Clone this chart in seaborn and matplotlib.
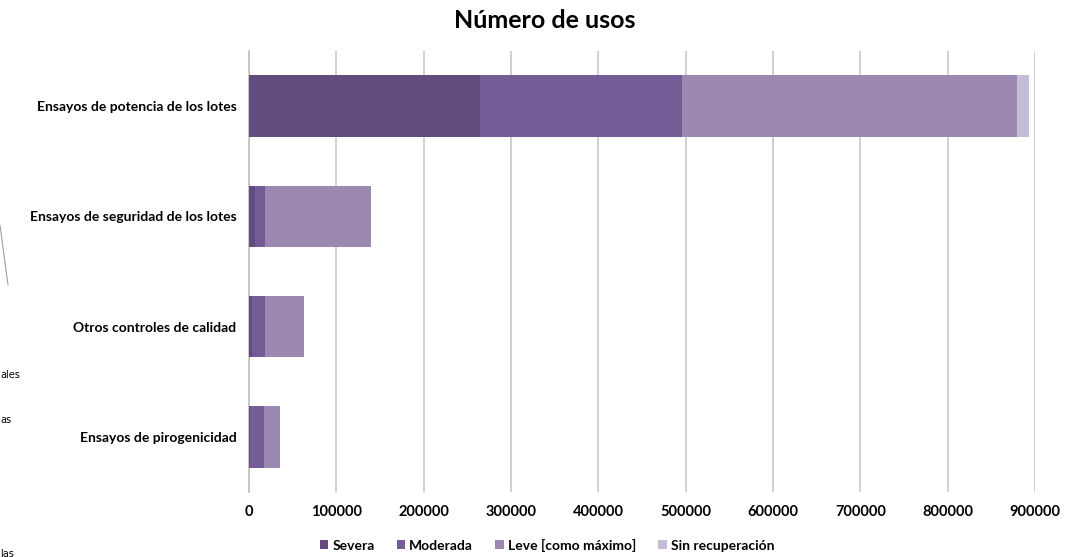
import matplotlib
matplotlib.use("Agg")
import matplotlib.pyplot as plt
import seaborn as sns
import pandas as pd
import numpy as np
from matplotlib.patches import Patch

categories = ["Ensayos de potencia de los lotes",
              "Ensayos de seguridad de los lotes",
              "Otros controles de calidad",
              "Ensayos de pirogenicidad"]
series_names = ["Severa", "Moderada", "Leve [como máximo]", "Sin recuperación"]
severa = [264000, 7000, 4000, 1000]
moderada = [232000, 11500, 14300, 16200]
leve = [383000, 121200, 45100, 18300]
sin_recuperacion = [14000, 0, 0, 0]
colors = ["#624c7d", "#765c96", "#9b89b2", "#c7bcd6"]
xticks = [0, 100000, 200000, 300000, 400000, 500000, 600000, 700000, 800000, 900000]

sns.set_theme(style="white")
plt.rcParams['font.family'] = ['Lato', 'DejaVu Sans']
plt.rcParams['text.color'] = 'black'

fig = plt.figure(figsize=(10.79, 5.57), dpi=100)
ax = fig.add_axes([249/1079, 1-492/557, (1035-249)/1079, (492-51)/557])

vals = np.array([severa, moderada, leve, sin_recuperacion], dtype=float)
cum = np.cumsum(vals, axis=0)
for i in range(len(series_names) - 1, -1, -1):
    df = pd.DataFrame({"cat": categories, "val": cum[i]})
    sns.barplot(data=df, y="cat", x="val", orient="h", color=colors[i],
                width=0.56, ax=ax, saturation=1, linewidth=0, zorder=3)

ax.set_xlim(0, 900000)
ax.set_xticks(xticks)
ax.set_xticklabels([str(t) for t in xticks], fontsize=10.5, fontweight="bold")
ax.set_yticklabels(categories, fontsize=10, fontweight="bold")
ax.set_xlabel("")
ax.set_ylabel("")
ax.grid(axis="x", color="#c8c8c8", linewidth=1.2, zorder=0)
ax.set_axisbelow(True)
for s in ["top", "right", "bottom"]:
    ax.spines[s].set_visible(False)
ax.spines["left"].set_color("#c0c0c0")
ax.spines["left"].set_linewidth(1.2)
ax.tick_params(axis="x", length=0, pad=9, colors="black")
ax.tick_params(axis="y", length=0, pad=9, colors="black")

fig.text(545/1079, 1-20/557, "Número de usos", ha="center", va="center",
         fontsize=18, fontweight="bold", color="black")

handles = [Patch(facecolor=c, edgecolor="none") for c in colors]
fig.legend(handles, series_names, loc="center", bbox_to_anchor=(547/1079, 1-545/557),
           ncol=4, frameon=False, prop={"weight": "bold", "size": 10},
           handlelength=0.6, handleheight=0.6, columnspacing=1.6, handletextpad=0.3,
           labelcolor="black")

# stray fragments at the left edge of the source image
fig.add_artist(plt.Line2D([0/1079, 8/1079], [1-225/557, 1-285/557], color="#a0a0a0", linewidth=0.8))
fig.text(0, 1-375/557, "ales", fontsize=7, ha="left", va="center", family="DejaVu Sans")
fig.text(0, 1-420/557, "as", fontsize=7, ha="left", va="center", family="DejaVu Sans")
fig.text(0, 1-554/557, "las", fontsize=7, ha="left", va="center", family="DejaVu Sans")

fig.savefig("out.png", dpi=100)
